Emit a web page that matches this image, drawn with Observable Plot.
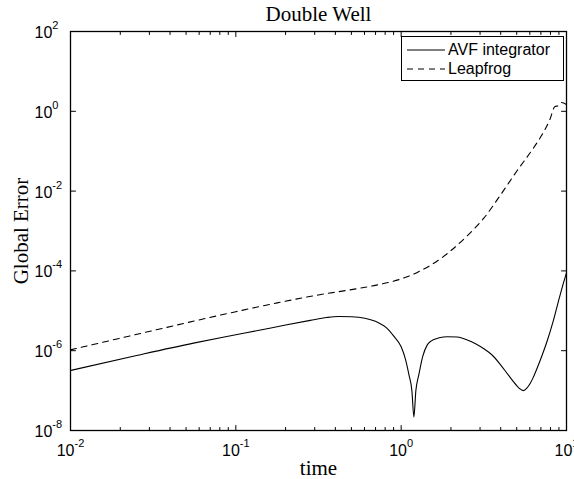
<!DOCTYPE html>
<html><head><meta charset="utf-8">
<script src="https://cdn.jsdelivr.net/npm/d3@7"></script>
<script src="https://cdn.jsdelivr.net/npm/@observablehq/plot@0.6"></script>
<style>
body{margin:0;background:#fff;}
#wrap{position:relative;width:574px;height:479px;overflow:hidden;}
.legend{position:absolute;left:401px;top:36px;width:163px;height:45px;border:1px solid #000;background:#fff;box-sizing:border-box;font-family:"Liberation Sans",Arial,sans-serif;font-size:16px;color:#000;}
.row{position:absolute;left:5px;height:18px;display:flex;align-items:center;}
.row svg{margin-right:3px;}
</style></head>
<body><div id="wrap"></div>
<script>
// Data
const avfT = [0.01,0.0251,0.0555,0.1,0.141,0.2,0.282,0.355,0.417,0.501,0.603,0.724,0.813,0.9,1.0,1.059,1.114,1.161,1.194,1.227,1.279,1.349,1.439,1.514,1.698,1.905,2.188,2.512,2.818,3.162,3.548,3.981,4.467,5.012,5.248,5.495,5.754,6.026,6.31,6.918,7.656,8.318,8.913,9.441,10];
const avfE = [3.2e-7,7.6e-7,1.55e-6,2.5e-6,3.3e-6,4.4e-6,5.75e-6,6.8e-6,7.2e-6,7.1e-6,6.5e-6,5.1e-6,3.8e-6,2.35e-6,1.25e-6,6.3e-7,2.5e-7,1.0e-7,2.2e-8,1.0e-7,2.5e-7,7.1e-7,1.4e-6,1.74e-6,2.1e-6,2.24e-6,2.2e-6,1.86e-6,1.5e-6,1.12e-6,7.8e-7,4.5e-7,2.4e-7,1.32e-7,1.1e-7,1.0e-7,1.15e-7,1.5e-7,2.2e-7,5.6e-7,1.8e-6,5.6e-6,1.66e-5,4.0e-5,8.9e-5];
const leapT = [0.01,0.0316,0.1,0.178,0.316,0.501,0.708,1.0,1.259,1.585,1.995,2.512,3.162,3.981,5.012,6.31,7.079,7.943,8.511,8.95,9.33,10];
const leapE = [1.05e-6,3.2e-6,9.5e-6,1.58e-5,2.5e-5,3.4e-5,4.4e-5,6.3e-5,9.3e-5,1.58e-4,3.2e-4,7.6e-4,2.1e-3,7.9e-3,0.032,0.12,0.25,0.63,1.32,1.38,1.66,1.48];
const seriesNames = ["AVF integrator","Leapfrog"];
const xMajor = [0.01,0.1,1,10];
const xExp = ["-2","-1","0","1"];
const xMinor = [0.02,0.03,0.04,0.05,0.06,0.07,0.08,0.09,0.2,0.3,0.4,0.5,0.6,0.7,0.8,0.9,2,3,4,5,6,7,8,9];
const yMajor = [1e-8,1e-6,1e-4,1e-2,1,100];
const yExp = ["-8","-6","-4","-2","0","2"];
const titleText = "Double Well";
const xLabel = "time";
const yLabel = "Global Error";

const avf = avfT.map((t,i)=>({t, e: avfE[i]}));
const leap = leapT.map((t,i)=>({t, e: leapE[i]}));

const tickShape = {draw(ctx, l){ ctx.moveTo(0,0); ctx.lineTo(0,-l); }};
const sans = "Liberation Sans, Arial, Helvetica, sans-serif";
const serif = "Liberation Serif, Times New Roman, serif";
const tk = (data, ch, anchor, len, rot) => Plot.vector(data, {[ch]: d=>d, frameAnchor: anchor, anchor: "start", length: len, rotate: rot, shape: tickShape, stroke: "black", strokeWidth: 1});

const chart = Plot.plot({
  width: 574, height: 479,
  marginLeft: 70, marginRight: 8, marginTop: 31, marginBottom: 49,
  style: {fontFamily: sans, fontSize: "16px", background: "white", overflow: "visible", color: "black"},
  x: {type: "log", domain: [0.01, 10], axis: null},
  y: {type: "log", domain: [1e-8, 1e2], axis: null},
  marks: [
    Plot.line(avf, {x: "t", y: "e", stroke: "black", strokeWidth: 1.1, curve: "monotone-x"}),
    Plot.line(leap, {x: "t", y: "e", stroke: "black", strokeWidth: 1.1, strokeDasharray: "6,5", curve: "monotone-x"}),
    tk(xMajor, "x", "bottom", 5, 0),
    tk(xMajor, "x", "top", 5, 180),
    tk(xMinor, "x", "bottom", 3, 0),
    tk(xMinor, "x", "top", 3, 180),
    tk(yMajor, "y", "left", 5, 90),
    tk(yMajor, "y", "right", 5, -90),
    Plot.frame({stroke: "black", strokeWidth: 1.3}),
    Plot.text(xMajor, {x: d=>d, frameAnchor: "bottom", dy: 25, lineAnchor: "bottom", textAnchor: "middle", text: (d,i)=>"10^"+xExp[i], fontFamily: sans, fontSize: 16}),
    Plot.text(yMajor, {y: d=>d, frameAnchor: "left", dx: -36, dy: 6.5, lineAnchor: "bottom", textAnchor: "start", text: (d,i)=>"10^"+yExp[i], fontFamily: sans, fontSize: 16}),
    Plot.text([titleText], {frameAnchor: "top", dy: -11, lineAnchor: "bottom", textAnchor: "middle", fontFamily: serif, fontSize: 21}),
    Plot.text([xLabel], {frameAnchor: "bottom", dy: 44, lineAnchor: "bottom", textAnchor: "middle", fontFamily: serif, fontSize: 21}),
    Plot.text([yLabel], {frameAnchor: "left", dx: -43, rotate: -90, lineAnchor: "bottom", textAnchor: "middle", fontFamily: serif, fontSize: 21})
  ]
});

chart.querySelectorAll('text').forEach(t => {
  if (!t.textContent.includes("^")) return;
  const parts = t.textContent.split("^");
  t.textContent = parts[0];
  const ts = document.createElementNS("http://www.w3.org/2000/svg", "tspan");
  ts.setAttribute("dy", "-9");
  ts.setAttribute("font-size", "11");
  ts.textContent = parts[1];
  t.appendChild(ts);
});

const wrap = document.getElementById("wrap");
wrap.appendChild(chart);

// Legend (inside axes, top-right)
const legend = document.createElement("div");
legend.className = "legend";
const dashes = [null, "6,5"];
seriesNames.forEach((name, i) => {
  const row = document.createElement("div");
  row.className = "row";
  row.style.top = (i === 0 ? 4 : 23) + "px";
  row.innerHTML = `<svg width="38" height="10"><line x1="0" y1="5" x2="38" y2="5" stroke="black" stroke-width="1.1" ${dashes[i] ? `stroke-dasharray="${dashes[i]}"` : ""}/></svg><span>${name}</span>`;
  legend.appendChild(row);
});
wrap.appendChild(legend);
</script>
</body></html>
